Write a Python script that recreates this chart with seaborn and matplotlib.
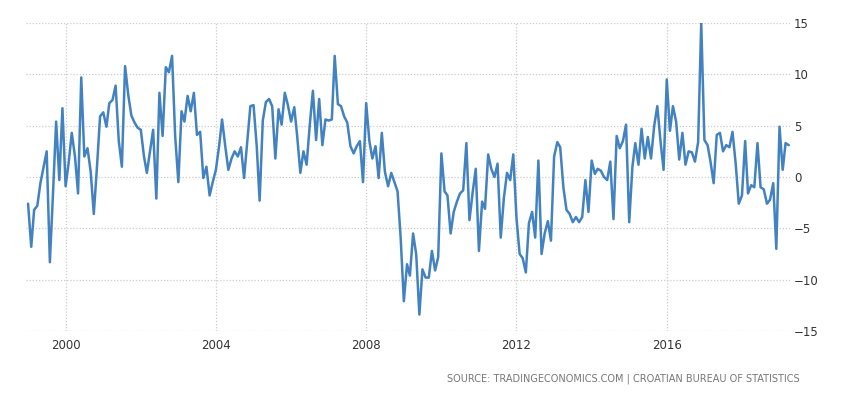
import matplotlib
matplotlib.use("Agg")
import matplotlib.pyplot as plt
import matplotlib.dates as mdates
import numpy as np
import pandas as pd
import seaborn as sns

# Monthly values (Jan 1999 - Apr 2019)
v1999 = [-2.6, -6.8, -3.2, -2.8, -0.6, 1.0, 2.5, -8.3, -1.5, 5.4, -0.3, 6.7]
v2000 = [-0.9, 1.5, 4.3, 2.0, -1.6, 9.7, 2.0, 2.8, 0.5, -3.6, 1.0, 5.9]
v2001 = [6.3, 4.9, 7.2, 7.5, 8.9, 3.5, 1.0, 10.8, 8.0, 6.0, 5.3, 4.8]
v2002 = [4.6, 2.0, 0.4, 2.5, 4.6, -2.1, 8.2, 4.0, 10.7, 10.2, 11.8, 4.0]
v2003 = [-0.5, 6.4, 5.4, 7.9, 6.4, 8.2, 4.1, 4.4, -0.1, 1.0, -1.8, -0.5]
v2004 = [0.7, 3.0, 5.6, 3.0, 0.7, 1.8, 2.5, 2.0, 2.9, -0.1, 3.5, 6.9]
v2005 = [7.0, 3.0, -2.3, 5.5, 7.3, 7.6, 6.9, 1.8, 6.6, 5.1, 8.2, 7.0]
v2006 = [5.4, 6.8, 4.0, 0.4, 2.5, 1.2, 5.0, 8.4, 3.6, 7.6, 3.1, 5.6]
v2007 = [5.5, 5.6, 11.8, 7.1, 6.9, 5.9, 5.3, 3.0, 2.3, 3.0, 3.5, -0.5]
v2008 = [7.2, 3.5, 1.8, 3.0, -0.1, 4.3, 0.5, -0.9, 0.4, -0.5, -1.4, -5.9]
v2009 = [-12.1, -8.5, -9.6, -5.5, -7.5, -13.4, -9.0, -9.8, -9.8, -7.2, -9.1, -7.8]
v2010 = [2.3, -1.4, -1.8, -5.5, -3.4, -2.4, -1.6, -1.3, 3.3, -4.2, -1.5, 0.8]
v2011 = [-7.2, -2.4, -3.1, 2.2, 0.8, 0.0, 1.3, -5.9, -2.0, 0.4, -0.3, 2.2]
v2012 = [-4.0, -7.5, -7.9, -9.3, -4.5, -3.4, -5.9, 1.6, -7.5, -5.5, -4.3, -6.2]
v2013 = [2.0, 3.4, 2.9, -1.0, -3.2, -3.6, -4.4, -3.9, -4.4, -3.9, -0.3, -3.4]
v2014 = [1.6, 0.3, 0.8, 0.6, 0.0, -0.3, 1.5, -4.1, 4.0, 2.8, 3.5, 5.1]
v2015 = [-4.4, 1.0, 3.3, 1.2, 4.7, 1.8, 3.9, 1.8, 5.0, 6.9, 3.5, 0.7]
v2016 = [9.5, 4.5, 6.9, 5.4, 1.7, 4.3, 1.2, 2.5, 2.4, 1.5, 3.4, 15.0]
v2017 = [3.6, 3.1, 1.5, -0.6, 4.1, 4.3, 2.5, 3.1, 2.9, 4.4, 1.3, -2.6]
v2018 = [-1.8, 3.5, -1.6, -0.8, -1.0, 3.3, -1.0, -1.2, -2.6, -2.2, -0.6, -7.0]
v2019 = [4.9, 0.7, 3.3, 3.1]

year_ticks = [2000, 2004, 2008, 2012, 2016]
y_ticks = [-15, -10, -5, 0, 5, 10, 15]
source_text = "SOURCE: TRADINGECONOMICS.COM | CROATIAN BUREAU OF STATISTICS"

values = (v1999 + v2000 + v2001 + v2002 + v2003 + v2004 + v2005 + v2006 + v2007
          + v2008 + v2009 + v2010 + v2011 + v2012 + v2013 + v2014 + v2015
          + v2016 + v2017 + v2018 + v2019)
dates = pd.date_range("1999-01-01", periods=len(values), freq="MS")
df = pd.DataFrame({"date": dates, "value": values})

sns.set_theme(style="white")
plt.rcParams["font.family"] = ["DejaVu Sans"]

W, H = 853, 397
fig = plt.figure(figsize=(W / 100, H / 100), dpi=100)
left, right, top, bottom = 26, 790, 23, 331
ax = fig.add_axes([left / W, 1 - bottom / H, (right - left) / W, (bottom - top) / H])

sns.lineplot(data=df, x="date", y="value", ax=ax, color="#4282c0", linewidth=1.8)

ax.set_ylim(-15, 15)
ax.set_yticks(y_ticks)
ax.yaxis.tick_right()
ax.set_xlim(dates[0] - pd.Timedelta(days=20), dates[-1] + pd.Timedelta(days=12))
ax.set_xticks(pd.to_datetime([f"{y}-01-01" for y in year_ticks]))
ax.xaxis.set_major_formatter(mdates.DateFormatter("%Y"))

ax.grid(True, linestyle=(0, (1, 1.5)), color="#cccccc", linewidth=0.9)
for s in ax.spines.values():
    s.set_visible(False)
ax.tick_params(axis="both", length=0, labelsize=8.5, colors="#333333")
ax.tick_params(axis="y", pad=3)
ax.tick_params(axis="x", pad=6)
ax.set_xlabel("")
ax.set_ylabel("")

fig.text(800 / W, 1 - 379 / H, source_text, ha="right", va="center",
         fontsize=7, color="#777777")

fig.savefig("out.png", dpi=100)
